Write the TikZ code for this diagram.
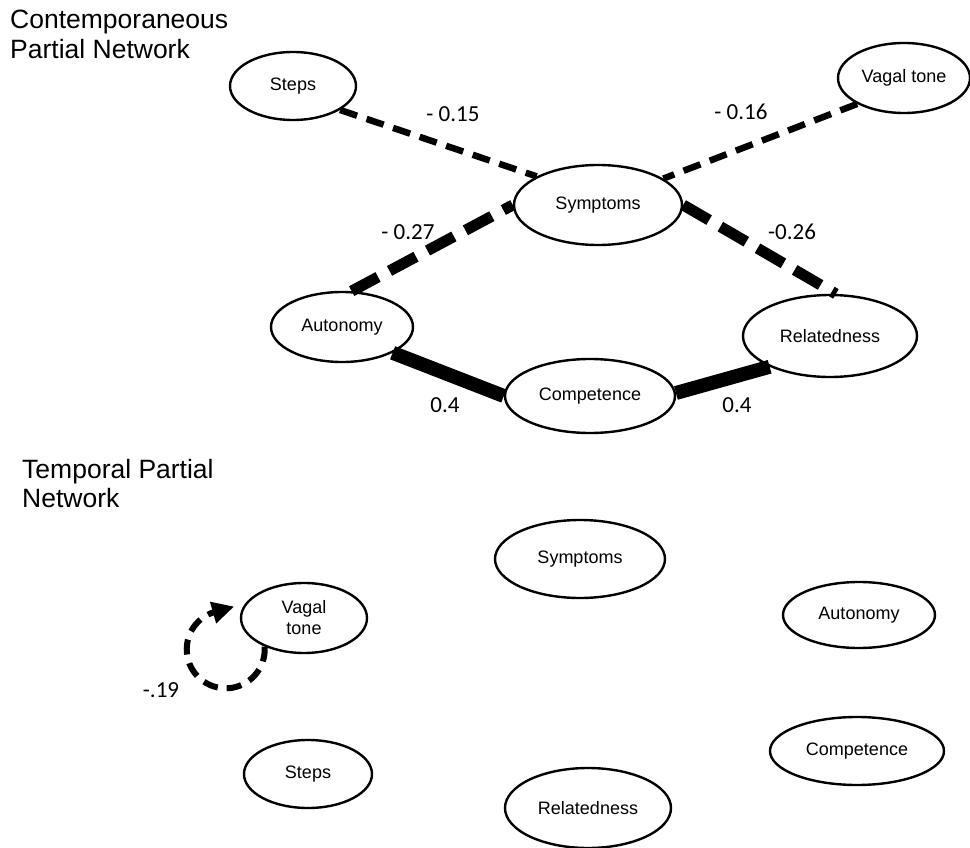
\documentclass[tikz,border=0pt]{standalone}
\usepackage{fontspec}
\setmainfont{Liberation Sans}
\newfontfamily\labfont{Carlito}
\usetikzlibrary{shapes.geometric,arrows.meta}
\begin{document}
\begin{tikzpicture}[x=1pt,y=-1pt,
  vnode/.style={ellipse,draw,line width=2.4pt,inner sep=0pt,font=\fontsize{18}{21}\selectfont,align=center},
  ttl/.style={anchor=base west,font=\fontsize{26.5}{30}\selectfont,inner sep=0pt},
  wlab/.style={font={\labfont\fontsize{23}{26}\selectfont},inner sep=0pt},
  negthin/.style={line width=6.5pt,dash pattern=on 18pt off 10pt},
  negthick/.style={line width=11pt,dash pattern=on 30pt off 13pt},
  posedge/.style={line width=14pt},
  loopedge/.style={line width=6pt,dash pattern=on 15pt off 9pt,-{Triangle[length=22pt,width=21pt]}}]
\useasboundingbox (0,0) rectangle (970,848);

% titles
\node[ttl] (t1a) at (10,29) {Contemporaneous};
\node[ttl] (t1b) at (10,59) {Partial Network};
\node[ttl] (t2a) at (22,478) {Temporal Partial};
\node[ttl] (t2b) at (22,507) {Network};

% contemporaneous network
\node[vnode,minimum width=126pt,minimum height=68pt] (cSteps) at (293,86) {Steps};
\node[vnode,minimum width=132pt,minimum height=70pt] (cVagal) at (904,78) {Vagal tone};
\node[vnode,minimum width=168pt,minimum height=80pt] (cSymp) at (598,205) {Symptoms};
\node[vnode,minimum width=142pt,minimum height=70pt] (cAuto) at (342,327) {Autonomy};
\node[vnode,minimum width=174pt,minimum height=82pt] (cRel) at (830,336) {Relatedness};
\node[vnode,minimum width=170pt,minimum height=74pt] (cComp) at (590,396) {Competence};

\draw[negthin] (cSteps.-27.5) -- (cSymp.155);
\draw[negthin] (cVagal.209) -- (cSymp.22.6);
\draw[negthick] (cAuto.75) -- (cSymp.180);
\draw[negthick] (cSymp.0) -- (cRel.82);
\draw[posedge] (cAuto.-27) -- (cComp.180);
\draw[posedge] (cComp.2) -- (cRel.207);

\node[wlab] (l1) at (453,114) {- 0.15};
\node[wlab] (l2) at (741,112) {- 0.16};
\node[wlab] (l3) at (408,232) {- 0.27};
\node[wlab] (l4) at (792,232) {-0.26};
\node[wlab] (l5) at (445,405) {0.4};
\node[wlab] (l6) at (737,405) {0.4};

% temporal network
\node[vnode,minimum width=170pt,minimum height=78pt] (tSymp) at (580,559) {Symptoms};
\node[vnode,minimum width=126pt,minimum height=70pt] (tVagal) at (304,618) {Vagal\\tone};
\node[vnode,minimum width=152pt,minimum height=66pt] (tAuto) at (859,615) {Autonomy};
\node[vnode,minimum width=128pt,minimum height=68pt] (tSteps) at (308,774) {Steps};
\node[vnode,minimum width=174pt,minimum height=68pt] (tComp) at (857,751) {Competence};
\node[vnode,minimum width=166pt,minimum height=80pt] (tRel) at (588,808) {Relatedness};

\draw[loopedge] (tVagal.216) arc[start angle=4,end angle=-248,radius=39pt] -- ++(16:24pt);
\node[wlab] (l7) at (161,690) {-.19};
\end{tikzpicture}
\end{document}
